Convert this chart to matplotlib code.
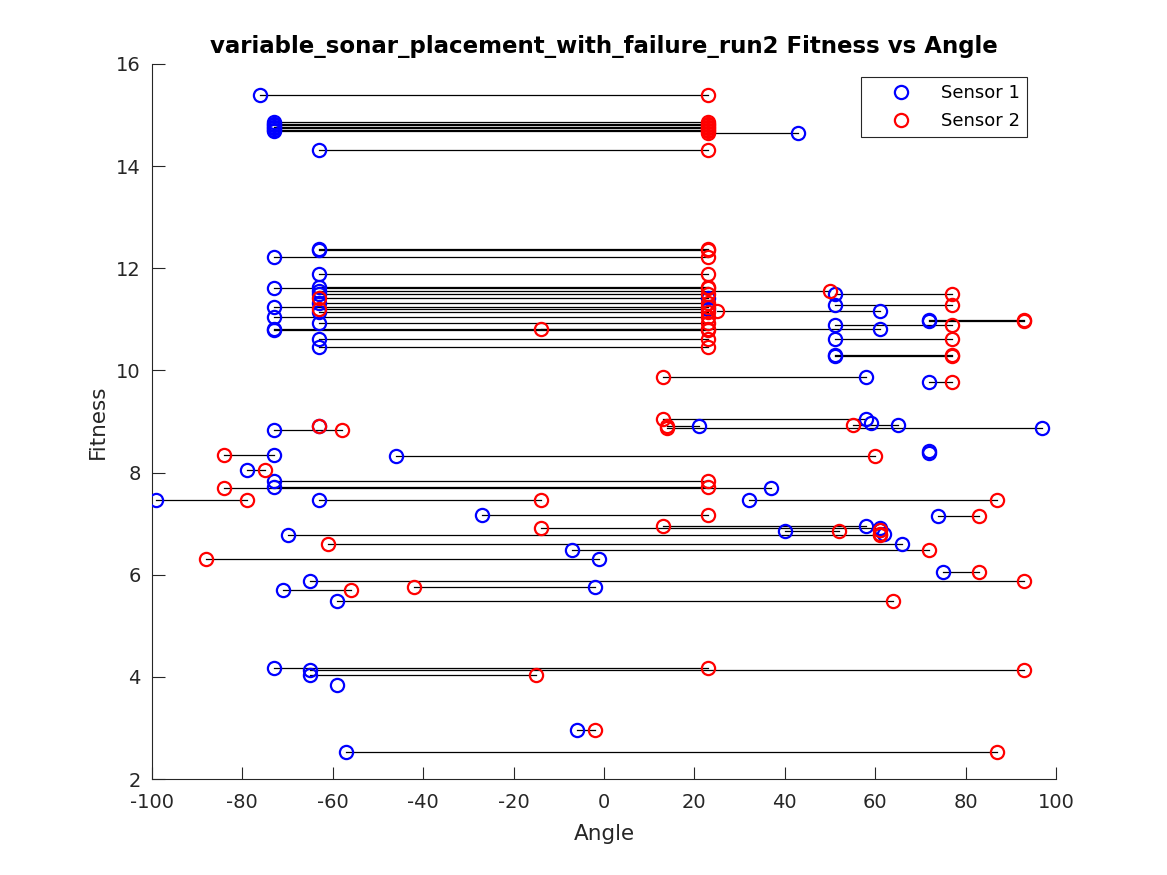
import numpy as np
import matplotlib.pyplot as plt

# angle of sensor 1, angle of sensor 2, fitness (one row per individual)
sensor1 = [-76, -73, -73, -73, -73, -73, -73, -73, 43, -63,
           -63, -63, -73, -63, -73, -63, -63, -63, 23, -63, -73, 23,
           -63, -73, -63, -73, -73, -63, -63,
           51, 51, 61, 72, 72, 51, 61, 51, 51, 51,
           58, 72, 58, 97, 21, 59, 65, 72, 72,
           -73, -63, -73, -46, -79, -73, -73, 37, -99, -63, 32, -27, 74,
           58, 61, 40, 61, 62, -70, 66, -7, -1,
           75, -65, -71, -2, -59,
           -73, -65, -65, -59, -6, -57]
sensor2 = [23, 23, 23, 23, 23, 23, 23, 23, 23, 23,
           23, 23, 23, 23, 23, 23, 50, 23, -63, 23, 23, -63,
           23, 23, 23, 23, 23, 23, 23,
           77, 77, 25, 93, 93, 77, -14, 77, 77, 77,
           13, 77, 13, 14, 14, np.nan, 55, np.nan, np.nan,
           -58, -63, -84, 60, -75, 23, 23, -84, -79, -14, 87, 23, 83,
           13, -14, 52, 61, 61, 61, -61, 72, -88,
           83, 93, -56, -42, 64,
           23, 93, -15, np.nan, -2, 87]
fitness = [15.40, 14.86, 14.83, 14.80, 14.77, 14.74, 14.71, 14.68, 14.65, 14.31,
           12.36, 12.38, 12.23, 11.88, 11.62, 11.64, 11.55, 11.49, 11.41, 11.32, 11.24, 11.20,
           11.14, 11.04, 10.93, 10.82, 10.80, 10.62, 10.45,
           11.49, 11.29, 11.17, 10.97, 10.99, 10.89, 10.82, 10.61, 10.28, 10.30,
           9.88, 9.78, 9.04, 8.88, 8.92, 8.97, 8.94, 8.43, 8.39,
           8.83, 8.92, 8.34, 8.33, 8.05, 7.84, 7.72, 7.70, 7.46, 7.46, 7.46, 7.17, 7.14,
           6.95, 6.92, 6.86, 6.88, 6.80, 6.77, 6.60, 6.48, 6.30,
           6.05, 5.87, 5.70, 5.75, 5.49,
           4.17, 4.13, 4.04, 3.85, 2.96, 2.53]

x_ticks = [-100, -80, -60, -40, -20, 0, 20, 40, 60, 80, 100]
y_ticks = [2, 4, 6, 8, 10, 12, 14, 16]

s1 = np.array(sensor1, dtype=float)
s2 = np.array(sensor2, dtype=float)
fit = np.array(fitness, dtype=float)

plt.rcParams["font.family"] = "DejaVu Sans"
plt.rcParams["axes.unicode_minus"] = False
fig = plt.figure(figsize=(11.67, 8.75), dpi=100)
ax = fig.add_axes([0.1302, 0.1097, 0.7747, 0.8172])

# linhas entre os dois sensores
for a, b, f in zip(s1, s2, fit):
    if not np.isnan(b):
        ax.plot([a, b], [f, f], "-", color="black", linewidth=0.9, zorder=2)

ax.plot(s1, fit, "o", linestyle="none", markersize=9.5, markerfacecolor="none",
        markeredgecolor="blue", markeredgewidth=1.6, label="Sensor 1", zorder=3)
ax.plot(s2, fit, "o", linestyle="none", markersize=9.5, markerfacecolor="none",
        markeredgecolor="red", markeredgewidth=1.6, label="Sensor 2", zorder=4)

ax.set_xlim(-100, 100)
ax.set_ylim(2, 16)
ax.set_xticks(x_ticks)
ax.set_yticks(y_ticks)
ax.tick_params(direction="in", length=9, colors="#262626", labelsize=14)
ax.tick_params(axis="x", pad=10)
ax.tick_params(axis="y", pad=8)
for side in ["top", "right"]:
    ax.spines[side].set_visible(False)
for side in ["left", "bottom"]:
    ax.spines[side].set_color("#262626")
    ax.spines[side].set_linewidth(0.8)

ax.set_xlabel("Angle", fontsize=15.5, color="#262626", labelpad=9)
ax.set_ylabel("Fitness", fontsize=15.5, color="#262626", labelpad=6)
ax.set_title("variable_sonar_placement_with_failure_run2 Fitness vs Angle",
             fontsize=16.5, fontweight="bold", pad=8)

leg = ax.legend(loc="upper right", bbox_to_anchor=(0.968, 0.982), fontsize=13,
                fancybox=False, edgecolor="#262626", framealpha=1,
                handletextpad=0.34, handlelength=3.7, borderpad=0.4,
                labelspacing=0.55, borderaxespad=0)
leg.get_frame().set_linewidth(0.8)

fig.savefig("out.png", dpi=100)
plt.close()
